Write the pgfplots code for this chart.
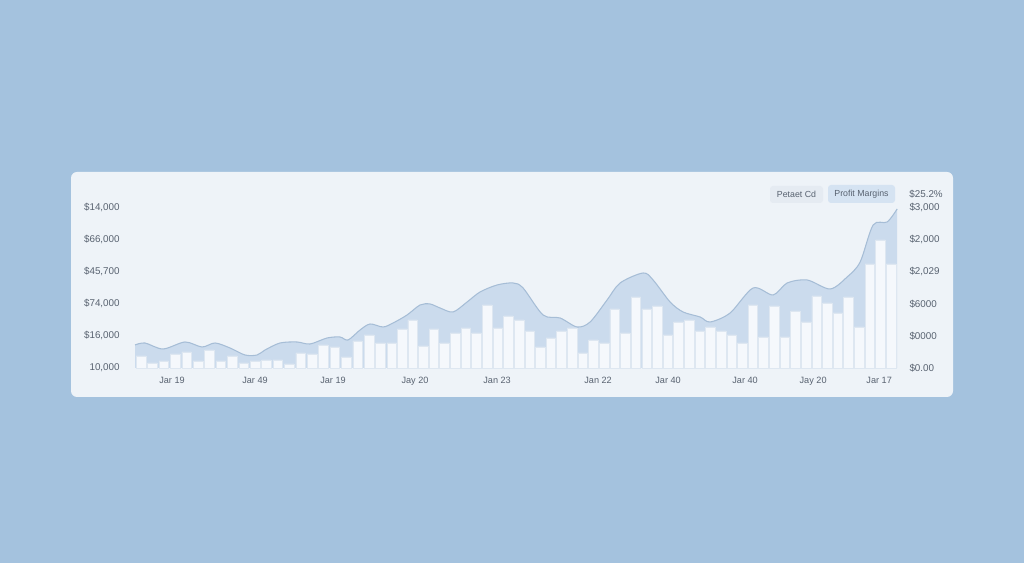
\documentclass[border=0pt]{standalone}
\usepackage{pgfplots}
\usepackage{pgfplotstable}
\pgfplotsset{compat=1.18}
\usepgfplotslibrary{fillbetween}
\tikzset{fill between/on layer=main}
\usepackage{fontspec}
\setmainfont{Liberation Sans}

\definecolor{pagebg}{RGB}{164,194,222}
\definecolor{cardbg}{RGB}{238,243,248}
\definecolor{areafill}{RGB}{203,219,237}
\definecolor{arealine}{RGB}{166,189,214}
\definecolor{barfill}{RGB}{245,248,252}
\definecolor{baredge}{RGB}{222,231,241}
\definecolor{textgray}{RGB}{88,98,112}
\definecolor{pillgray}{RGB}{229,235,242}
\definecolor{pillblue}{RGB}{213,227,242}

% trend curve (x in px from the left edge of the plot, value in px above the base line)
\pgfplotstableread{
x y
0 23
10 25
28 19
50 26
67 21
80 25
95 20
110 13
122 13
130 18
145 25
162 26
175 24
192 30
205 31
213 28
225 38
235 44
248 41
258 45
272 53
285 63
295 64
305 60
318 56
332 66
345 76
362 83
378 85
388 80
408 53
425 50
442 41
455 46
472 68
485 85
508 95
518 88
535 66
548 56
565 51
575 46
595 55
618 80
638 73
652 85
672 88
695 79
712 91
725 106
738 143
752 146
762 159
}\curvedata

% bars
\pgfplotstableread{
x y
6 12
17.4 5
28.8 7
40.2 14
51.6 16
63 7
74.4 18
85.8 7
97.2 12
108.6 5
120 7
131.4 8
142.8 8
154.2 4
165.6 15
177 14
188.4 23
199.8 21
211.2 11
222.6 27
234 33
245.4 25
256.8 25
267 39
277.6 48
288.3 22
298.9 39
309.5 25
320.2 35
330.8 40
341.4 35
352 63
362.7 40
373.3 52
383.9 48
394.6 37
405.2 21
415.8 30
426.4 37
437.1 40
447.7 15
458.3 28
469 25
479.6 59
490.2 35
500.8 71
511.5 59
522.1 62
532.7 33
543.4 46
554 48
564.6 37
575.2 41
585.9 37
596.5 33
607.1 25
617.8 63
628.4 31
639 62
649.6 31
660.3 57
670.9 46
681.5 72
692.2 65
702.8 55
713.4 71
724 41
734.7 104
745.3 128
755.9 104
}\bardata

\begin{document}
\begin{tikzpicture}
\fill[pagebg] (0,0) rectangle (20.48,11.26);
\fill[cardbg, rounded corners=0.12cm] (1.42,3.32) rectangle (19.06,7.82);

\begin{axis}[
    at={(2.70cm,3.90cm)}, anchor=south west,
    x=0.02cm, y=0.02cm,
    xmin=0, xmax=762, ymin=0, ymax=160,
    axis line style={draw=none},
    major tick length=0pt,
    ytick={0,32,64,96,128,160},
    yticklabels={{10,000},{\$16,000},{\$74,000},{\$45,700},{\$66,000},{\$14,000}},
    xtick={37,120,198,280,362,463,533,610,678,744},
    xticklabels={Jar 19,Jar 49,Jar 19,Jay 20,Jan 23,Jan 22,Jar 40,Jar 40,Jay 20,Jar 17},
    ymajorgrids,
    grid style={white, line width=0.7pt},
    tick label style={text=textgray, font=\fontsize{5.6}{6}\selectfont},
    yticklabel style={anchor=east, inner sep=0pt, xshift=-0.3cm},
    xticklabel style={anchor=north, inner sep=0pt, yshift=-0.17cm, font=\fontsize{5.2}{6}\selectfont},
    clip=false,
]
\addplot[name path=curve, draw=none, smooth, forget plot] table {\curvedata};
\path[name path=base] (axis cs:0,0) -- (axis cs:762,0);
\addplot[fill=areafill, draw=none] fill between[of=curve and base];
\addplot[smooth, draw=arealine, line width=0.6pt] table {\curvedata};
\addplot[ybar, bar width=9.6, fill=barfill, draw=baredge, line width=0.3pt] table {\bardata};
\end{axis}

\begin{axis}[
    at={(2.70cm,3.90cm)}, anchor=south west,
    x=0.02cm, y=0.02cm,
    xmin=0, xmax=762, ymin=0, ymax=160,
    hide x axis,
    axis y line*=right,
    axis line style={draw=none},
    major tick length=0pt,
    ytick={0,32,64,96,128,160},
    yticklabels={{\$0.00},{\$0000},{\$6000},{\$2,029},{\$2,000},{\$3,000}},
    yticklabel style={anchor=west, inner sep=0pt, xshift=0.24cm, text=textgray, font=\fontsize{5.6}{6}\selectfont},
]
\addplot[draw=none] coordinates {(0,0) (762,160)};
\end{axis}

\node[anchor=west, inner sep=0pt, text=textgray, font=\fontsize{5.6}{6}\selectfont] at (18.18,7.38) {\$25.2\%};
\fill[pillgray, rounded corners=0.06cm] (15.40,7.20) rectangle (16.46,7.54);
\fill[pillblue, rounded corners=0.06cm] (16.56,7.20) rectangle (17.90,7.56);
\node[text=textgray, font=\fontsize{5}{6}\selectfont] at (15.93,7.37) {Petaet Cd};
\node[text=textgray, font=\fontsize{5}{6}\selectfont] at (17.23,7.38) {Profit Margins};
\end{tikzpicture}
\end{document}
